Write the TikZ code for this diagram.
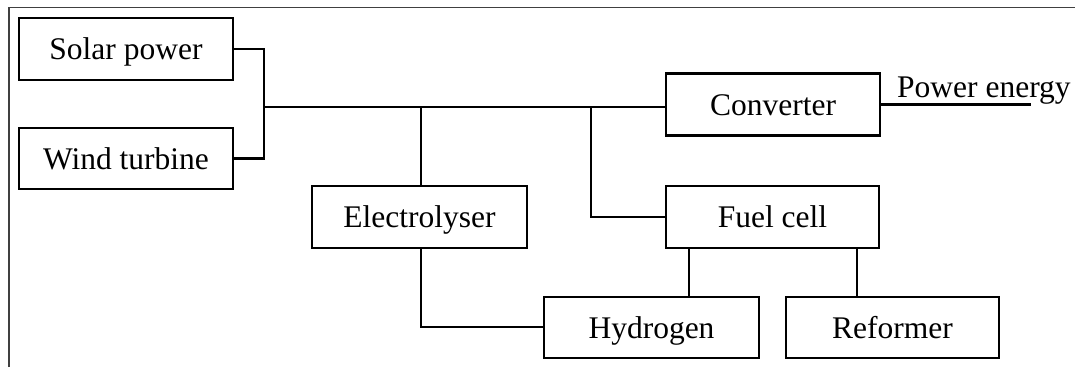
\documentclass[tikz,border=0pt]{standalone}
\usepackage{fontspec}
\setmainfont{Liberation Serif}
\begin{document}
\begin{tikzpicture}[x=1pt,y=-1pt,
  blk/.style={draw,line width=2.7pt,minimum width=214pt,minimum height=62pt,inner sep=0pt,
    text height=21.5pt,text depth=0pt,
    font=\fontsize{31.5}{34}\selectfont},
  wire/.style={line width=2.5pt},
  frameline/.style={line width=1.6pt,draw=black!75}]
\useasboundingbox (0,0) rectangle (1075,367);
\draw[frameline] (8.7,367) -- (8.7,7.5) -- (1075,7.5);
\node[blk] (solar) at (126,49) {Solar power};
\node[blk,minimum height=61pt] (wind) at (126,158.5) {Wind turbine};
\node[blk,minimum height=62pt] (conv) at (773,104.5) {Converter};
\node[blk,minimum width=215pt] (elec) at (419.5,217) {Electrolyser};
\node[blk,minimum width=213pt] (fuel) at (772.5,217) {Fuel cell};
\node[blk,minimum width=215pt,minimum height=61pt] (hyd) at (651.5,327.5) {Hydrogen};
\node[blk,minimum width=213pt,minimum height=61pt] (ref) at (892.5,327.5) {Reformer};
\node[font=\fontsize{31.5}{34}\selectfont,anchor=base west,inner sep=0pt] (pe) at (897,97) {Power energy};
\coordinate (j) at (264,107);
\coordinate (pend) at (1031,104.5);
\draw[wire] (solar.east) -| (j);
\draw[wire] (wind.east) -| (j);
\draw[wire] (j) -- (conv.west |- j);
\draw[wire] (conv.east) -- (pend);
\draw[wire] (elec.north -| 421,0) -- (421,107);
\draw[wire] (421,248) |- (hyd.west |- 0,327);
\draw[wire] (591,107) |- (fuel.west |- 0,217);
\draw[wire] (689,248) -- (689,297);
\draw[wire] (857,248) -- (857,297);
\end{tikzpicture}
\end{document}
